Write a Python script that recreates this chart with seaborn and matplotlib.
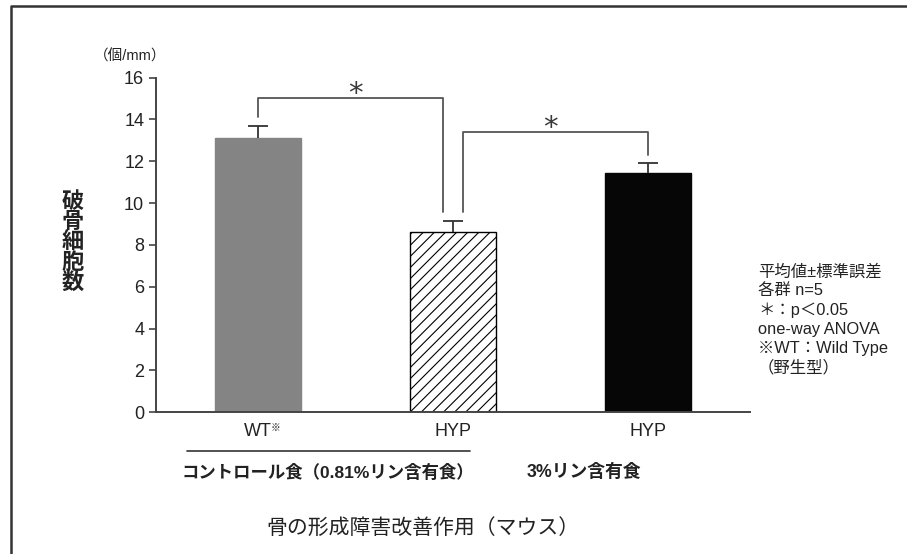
import matplotlib.pyplot as plt
import seaborn as sns
import pandas as pd
from matplotlib.lines import Line2D
import matplotlib.transforms as mtransforms

# data (osteoclasts per mm, mean +/- SEM)
groups = ['WT_ctrl', 'HYP_ctrl', 'HYP_3P']
tick_labels = ['WT', 'HYP', 'HYP']
means = [13.13, 8.62, 11.42]
sems = [0.55, 0.53, 0.50]
bar_colors = ['#848484', '#ffffff', '#060606']
bar_hatches = ['', '///', '']

# significance brackets: (left bar, right bar, bracket top, left leg bottom, right leg bottom)
brackets = [
    (0, 1, 15.02, 14.14, 9.6),
    (1, 2, 13.38, 9.6, 12.3),
]
diet_labels = ['コントロール食（0.81%リン含有食）', '3%リン含有食']
note_lines = ['平均値±標準誤差', '各群 n=5', '＊：p＜0.05', 'one-way ANOVA',
              '※WT：Wild Type', '（野生型）']

sns.set_style("ticks")
plt.rcParams['font.family'] = ['Liberation Sans', 'Noto Sans CJK JP']
plt.rcParams['hatch.color'] = 'black'
plt.rcParams['hatch.linewidth'] = 0.8

df = pd.DataFrame({'group': groups, 'value': means})

fig = plt.figure(figsize=(9.07, 5.54), dpi=100)
ax = fig.add_axes([0.172, 0.2558, 0.655, 0.604])

sns.barplot(data=df, x='group', y='value', hue='group', palette=bar_colors,
            dodge=False, width=0.44, errorbar=None, legend=False, ax=ax,
            saturation=1)

for i, p in enumerate(ax.patches[:len(groups)]):
    p.set_hatch(bar_hatches[i])
    if bar_hatches[i]:
        p.set_edgecolor('black')
        p.set_linewidth(1.0)
    else:
        p.set_edgecolor(bar_colors[i])

xs = list(range(len(groups)))
_, caps, _ = ax.errorbar(xs, means, yerr=[[0] * len(sems), sems], fmt='none',
                         ecolor='#333333', elinewidth=1.3, capsize=7,
                         capthick=1.3, zorder=1)
caps[0].remove()  # only the upper cap is drawn

line_col = '#555555'
off = 0.05
for a, b, top, yl, yr in brackets:
    xa = a + (off if a == 1 else 0)
    xb = b - (off if b == 1 else 0)
    ax.plot([xa, xa, xb, xb], [yl, top, top, yr], color=line_col, lw=1.3,
            clip_on=False)
    ax.text((a + b) / 2, top - 0.17, '*', ha='center', va='baseline',
            fontsize=21, color='#3a3a3a', family='DejaVu Sans')

ax.set_xlim(-0.52, 2.52)
ax.set_ylim(0, 16)
ax.set_yticks(range(0, 17, 2))
ax.set_xticks(xs)
ax.set_xticklabels(tick_labels, fontsize=13, color='#222222')
ax.tick_params(axis='x', length=0, pad=8)
ax.tick_params(axis='y', direction='out', length=5, width=1.2,
               labelsize=13, labelcolor='#222222', color='#444444')
ax.set_xlabel('')
ax.set_ylabel('')
sns.despine(ax=ax)
for s in ['left', 'bottom']:
    ax.spines[s].set_color('#444444')
    ax.spines[s].set_linewidth(1.4)

# superscript reference mark after WT
ax.annotate('※', xy=(0, 0), xycoords=('data', 'axes fraction'),
            xytext=(13, -11), textcoords='offset points', fontsize=7,
            ha='center', va='center', color='#222222')

# diet group line and labels
trans = mtransforms.blended_transform_factory(ax.transData, fig.transFigure)
ax.add_line(Line2D([-0.363, 1.089], [1 - 450.7 / 554] * 2, transform=trans,
                   color='#333333', lw=1.2, clip_on=False))
fig.text(328 / 907, 1 - 472 / 554, diet_labels[0], ha='center', va='center',
         fontsize=12.5, fontweight='bold', color='#222222')
fig.text(584 / 907, 1 - 472 / 554, diet_labels[1], ha='center', va='center',
         fontsize=12.8, fontweight='bold', color='#222222')

fig.text(423 / 907, 1 - 528 / 554, '骨の形成障害改善作用（マウス）', ha='center',
         va='center', fontsize=15, color='#222222')

# y label, stacked vertically
fig.text(73 / 907, 1 - 243 / 554, '\n'.join('破骨細胞数'), ha='center', va='center',
         fontsize=16, fontweight='bold', linespacing=0.95, color='#222222')
fig.text(130 / 907, 1 - 56 / 554, '（個/mm）', ha='center', va='center',
         fontsize=10.5, color='#222222')

fig.text(758 / 907, 1 - 264 / 554, '\n'.join(note_lines), ha='left', va='top',
         fontsize=11.8, linespacing=1.32, color='#222222')

# outer frame (top and left edges are visible in the crop)
fig.add_artist(Line2D([11 / 907, 11 / 907, 1.0], [0.0, 1 - 6 / 554, 1 - 6 / 554],
                      transform=fig.transFigure, color='#333333', lw=1.8))

fig.savefig('out.png', dpi=100)
